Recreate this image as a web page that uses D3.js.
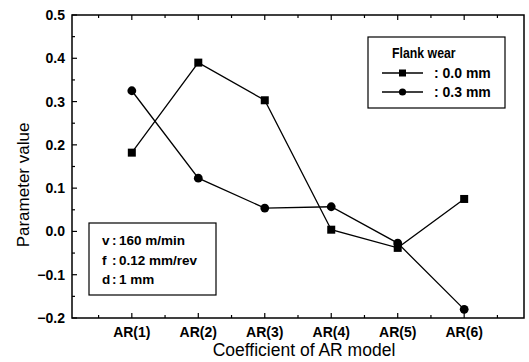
<!DOCTYPE html>
<html>
<head>
<meta charset="utf-8">
<script src="https://cdn.jsdelivr.net/npm/d3@7"></script>
<style>
  html, body { margin: 0; padding: 0; background: #fff; }
  svg { display: block; font-family: "Liberation Sans", Arial, sans-serif; }
</style>
</head>
<body>
<svg id="chart" width="529" height="362"></svg>
<script>
// AR model coefficients for two flank wear states
const categories = ["AR(1)", "AR(2)", "AR(3)", "AR(4)", "AR(5)", "AR(6)"];
const wear00 = [0.182, 0.390, 0.303, 0.004, -0.038, 0.075];
const wear03 = [0.325, 0.123, 0.054, 0.057, -0.027, -0.180];
const seriesNames = [": 0.0 mm", ": 0.3 mm"];
const yTicks = [-0.2, -0.1, 0.0, 0.1, 0.2, 0.3, 0.4, 0.5];
const condKeys = ["v", "f", "d"];
const condValues = ["160 m/min", "0.12 mm/rev", "1 mm"];

const svg = d3.select("#chart");
const L = 72, R = 524, T = 15, B = 318;

const x = d3.scaleLinear().domain([0.1, 6.9]).range([L, R]);
const y = d3.scaleLinear().domain([-0.2, 0.5]).range([B, T]);

// frame
svg.append("rect").attr("x", L).attr("y", T).attr("width", R - L).attr("height", B - T)
  .attr("fill", "none").attr("stroke", "#000").attr("stroke-width", 1.5);

// inward ticks
const xMajor = d3.range(1, 7), xMinor = d3.range(0.5, 7, 1);
const tk = svg.append("g").attr("stroke", "#000").attr("stroke-width", 1.2);
xMajor.forEach(v => {
  tk.append("line").attr("x1", x(v)).attr("x2", x(v)).attr("y1", B).attr("y2", B - 5);
  tk.append("line").attr("x1", x(v)).attr("x2", x(v)).attr("y1", T).attr("y2", T + 5);
});
xMinor.forEach(v => {
  tk.append("line").attr("x1", x(v)).attr("x2", x(v)).attr("y1", B).attr("y2", B - 3);
  tk.append("line").attr("x1", x(v)).attr("x2", x(v)).attr("y1", T).attr("y2", T + 3);
});
const yMinor = d3.range(-0.15, 0.5, 0.1);
yTicks.forEach(v => {
  tk.append("line").attr("x1", L).attr("x2", L + 5).attr("y1", y(v)).attr("y2", y(v));
});
yMinor.forEach(v => {
  tk.append("line").attr("x1", L).attr("x2", L + 3).attr("y1", y(v)).attr("y2", y(v));
});

// tick labels
svg.append("g").selectAll("text").data(yTicks).join("text")
  .attr("x", L - 7).attr("y", d => y(d) + 5)
  .attr("text-anchor", "end").attr("font-size", 14).attr("font-weight", "bold")
  .text(d => d3.format(".1f")(d));
svg.append("g").selectAll("text").data(categories).join("text")
  .attr("x", (d, i) => x(i + 1)).attr("y", 337)
  .attr("text-anchor", "middle").attr("font-size", 14).attr("font-weight", "bold")
  .text(d => d);

// axis titles
svg.append("text").attr("x", 304).attr("y", 356).attr("text-anchor", "middle")
  .attr("font-size", 17.5).text("Coefficient of AR model");
svg.append("text").attr("transform", "translate(29,185) rotate(-90)")
  .attr("text-anchor", "middle").attr("font-size", 17).text("Parameter value");

// series
const line = d3.line().x((d, i) => x(i + 1)).y(d => y(d));
[wear00, wear03].forEach(s => {
  svg.append("path").datum(s).attr("d", line)
    .attr("fill", "none").attr("stroke", "#000").attr("stroke-width", 1.3);
});
svg.append("g").selectAll("rect").data(wear00).join("rect")
  .attr("x", (d, i) => x(i + 1) - 4).attr("y", d => y(d) - 4)
  .attr("width", 8).attr("height", 8).attr("fill", "#000");
svg.append("g").selectAll("circle").data(wear03).join("circle")
  .attr("cx", (d, i) => x(i + 1)).attr("cy", d => y(d)).attr("r", 4.4).attr("fill", "#000");

// legend
const lg = svg.append("g");
lg.append("rect").attr("x", 368).attr("y", 37).attr("width", 137).attr("height", 71)
  .attr("fill", "#fff").attr("stroke", "#000").attr("stroke-width", 1.2);
lg.append("text").attr("font-size", 14).attr("font-weight", "bold")
  .attr("transform", "translate(392,58) scale(0.88,1)").text("Flank wear");
seriesNames.forEach((n, i) => {
  const yy = 73 + i * 19;
  lg.append("line").attr("x1", 382).attr("x2", 423).attr("y1", yy).attr("y2", yy)
    .attr("stroke", "#000").attr("stroke-width", 1.3);
  if (i === 0) lg.append("rect").attr("x", 399).attr("y", yy - 3.5).attr("width", 7).attr("height", 7);
  else lg.append("circle").attr("cx", 402.5).attr("cy", yy).attr("r", 3.6);
  lg.append("text").attr("x", 434).attr("y", yy + 5).attr("font-size", 14).attr("font-weight", "bold")
    .text(n);
});

// cutting conditions box
const cb = svg.append("g");
cb.append("rect").attr("x", 89).attr("y", 223).attr("width", 127).attr("height", 72)
  .attr("fill", "#fff").attr("stroke", "#000").attr("stroke-width", 1.2);
condKeys.forEach((k, i) => {
  const t = cb.append("text").attr("y", 245 + i * 19.5).attr("font-size", 13.5)
    .attr("font-weight", "bold");
  t.append("tspan").attr("x", 102).text(k);
  t.append("tspan").attr("x", 112).text(":");
  t.append("tspan").attr("x", 119).text(condValues[i]);
});
</script>
</body>
</html>
